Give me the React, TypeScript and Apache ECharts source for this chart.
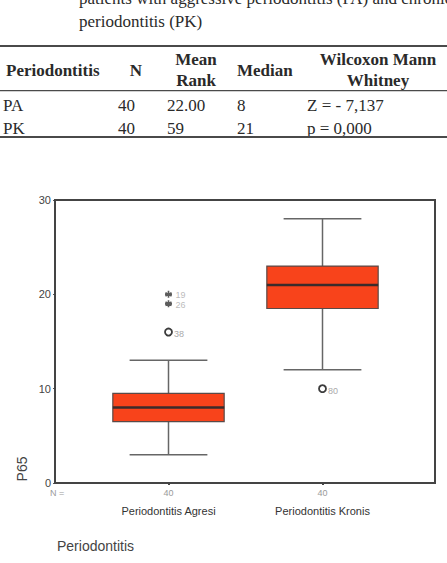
import React, { useEffect, useRef } from "react";
import * as echarts from "echarts";

// Box plot groups
const categories = ["Periodontitis Agresi", "Periodontitis Kronis"];
const counts = [40, 40];
const whiskerLow = [3, 12];
const quartile1 = [6.5, 18.5];
const medians = [8, 21];
const quartile3 = [9.5, 23];
const whiskerHigh = [13, 28];

// Outliers (circle) and extremes (asterisk), with case numbers
const outlierGroup = [0, 1];
const outlierValue = [16, 10];
const outlierCase = ["38", "80"];
const extremeGroup = [0, 0];
const extremeValue = [20, 19];
const extremeCase = ["19", "26"];

const yTicks = [0, 10, 20, 30];

// Summary table
const captionLines = [
  "patients with aggressive periodontitis (PA) and chronic",
  "periodontitis (PK)",
];
const tableGroups = ["PA", "PK"];
const tableN = ["40", "40"];
const tableMeanRank = ["22.00", "59"];
const tableMedian = ["8", "21"];
const tableTest = ["Z = - 7,137", "p = 0,000"];

const SERIF = "'Liberation Serif', 'DejaVu Serif', serif";
const SANS = "'Liberation Sans', Arial, sans-serif";

function serifText(text: string, x: number, y: number, bold = false, align = "left") {
  return {
    type: "text",
    silent: true,
    style: {
      text,
      x,
      y,
      align,
      verticalAlign: "middle",
      font: `${bold ? "bold " : ""}17px ${SERIF}`,
      fill: "#2a2a2a",
    },
  };
}

function rule(y: number, h: number) {
  return {
    type: "rect",
    silent: true,
    shape: { x: 0, y, width: 447, height: h },
    style: { fill: "#4a4a4a" },
  };
}

export default function App() {
  const ref = useRef<HTMLDivElement>(null);

  useEffect(() => {
    if (!ref.current) return;
    const chart = echarts.init(ref.current, null, { renderer: "svg" });

    const boxData = categories.map((_, i) => [
      i,
      whiskerLow[i],
      quartile1[i],
      medians[i],
      quartile3[i],
      whiskerHigh[i],
    ]);

    const outlierData = outlierGroup.map((g, i) => ({
      value: [g, outlierValue[i]],
      name: outlierCase[i],
    }));
    const extremeData = extremeGroup.map((g, i) => ({
      value: [g, extremeValue[i]],
      name: extremeCase[i],
    }));

    const graphic: any[] = [];
    // caption + table
    graphic.push(serifText(captionLines[0], 79, -2));
    graphic.push(serifText(captionLines[1], 79, 21));
    graphic.push(rule(45, 2));
    graphic.push(serifText("Periodontitis", 6, 70, true));
    graphic.push(serifText("N", 136, 70, true, "center"));
    graphic.push(serifText("Mean", 196, 59, true, "center"));
    graphic.push(serifText("Rank", 196, 80, true, "center"));
    graphic.push(serifText("Median", 237, 70, true));
    graphic.push(serifText("Wilcoxon Mann", 378, 59, true, "center"));
    graphic.push(serifText("Whitney", 378, 80, true, "center"));
    graphic.push(rule(90, 1.3));
    tableGroups.forEach((g, i) => {
      const y = 105 + i * 23;
      graphic.push(serifText(g, 3, y));
      graphic.push(serifText(tableN[i], 118, y));
      graphic.push(serifText(tableMeanRank[i], 167, y));
      graphic.push(serifText(tableMedian[i], 237, y));
      graphic.push(serifText(tableTest[i], 307, y));
    });
    graphic.push(rule(136, 2));

    // plot frame
    graphic.push({
      type: "rect",
      silent: true,
      z: 10,
      shape: { x: 55, y: 200, width: 380, height: 283 },
      style: { fill: "none", stroke: "#444", lineWidth: 2 },
    });
    graphic.push({
      type: "text",
      silent: true,
      style: {
        text: "N =",
        x: 50,
        y: 493,
        verticalAlign: "middle",
        font: `9px ${SANS}`,
        fill: "#9a9a9a",
      },
    });
    graphic.push({
      type: "text",
      silent: true,
      x: 22,
      y: 469,
      rotation: Math.PI / 2,
      style: {
        text: "P65",
        x: 0,
        y: 0,
        align: "center",
        verticalAlign: "middle",
        font: `14px ${SANS}`,
        fill: "#444",
      },
    });
    graphic.push({
      type: "text",
      silent: true,
      style: {
        text: "Periodontitis",
        x: 57,
        y: 546,
        verticalAlign: "middle",
        font: `14px ${SANS}`,
        fill: "#444",
      },
    });

    chart.setOption({
      animation: false,
      backgroundColor: "#ffffff",
      grid: { left: 91.5, right: 47.5, top: 200, bottom: 80, containLabel: false },
      xAxis: {
        type: "category",
        data: categories,
        boundaryGap: true,
        axisLine: { show: false },
        axisTick: { show: true, alignWithLabel: true, length: 2, lineStyle: { color: "#444", width: 2 } },
        axisLabel: {
          margin: 1,
          interval: 0,
          formatter: (v: string, idx: number) => `{n|${counts[idx]}}\n{c|${v}}`,
          rich: {
            n: { fontSize: 9, color: "#9a9a9a", lineHeight: 18, fontFamily: SANS },
            c: { fontSize: 11, color: "#333", lineHeight: 18, fontFamily: SANS },
          },
        },
        splitLine: { show: false },
      },
      yAxis: {
        type: "value",
        min: yTicks[0],
        max: yTicks[yTicks.length - 1],
        interval: 10,
        offset: 36.5,
        axisLine: { show: true, lineStyle: { color: "#444", width: 2 } },
        axisTick: { show: true, length: 2, lineStyle: { color: "#555" } },
        axisLabel: { fontSize: 11, color: "#444", margin: 4, fontFamily: SANS },
        splitLine: { show: false },
      },
      series: [
        {
          type: "custom",
          data: boxData,
          encode: { x: 0, y: [1, 2, 3, 4, 5] },
          renderItem: (params: any, api: any) => {
            const x = api.value(0);
            const lo = api.coord([x, api.value(1)]);
            const q1 = api.coord([x, api.value(2)]);
            const md = api.coord([x, api.value(3)]);
            const q3 = api.coord([x, api.value(4)]);
            const hi = api.coord([x, api.value(5)]);
            const band = api.size([1, 0])[0];
            const bw = band * 0.723;
            const cw = band * 0.505;
            const cx = lo[0];
            const whisker = { stroke: "#666", lineWidth: 1.5 };
            return {
              type: "group",
              children: [
                { type: "line", shape: { x1: cx, y1: hi[1], x2: cx, y2: q3[1] }, style: whisker },
                { type: "line", shape: { x1: cx, y1: q1[1], x2: cx, y2: lo[1] }, style: whisker },
                { type: "line", shape: { x1: cx - cw / 2, y1: hi[1], x2: cx + cw / 2, y2: hi[1] }, style: whisker },
                { type: "line", shape: { x1: cx - cw / 2, y1: lo[1], x2: cx + cw / 2, y2: lo[1] }, style: whisker },
                {
                  type: "rect",
                  shape: { x: cx - bw / 2, y: q3[1], width: bw, height: q1[1] - q3[1] },
                  style: { fill: "#f8431b", stroke: "#5a4a48", lineWidth: 1.2 },
                },
                {
                  type: "line",
                  shape: { x1: cx - bw / 2, y1: md[1], x2: cx + bw / 2, y2: md[1] },
                  style: { stroke: "#3b2b2b", lineWidth: 2.5 },
                },
              ],
            };
          },
          z: 2,
        },
        {
          type: "scatter",
          data: outlierData,
          symbol: "circle",
          symbolSize: 7,
          itemStyle: { color: "#ffffff", borderColor: "#3c3c3c", borderWidth: 1.8, opacity: 1 },
          label: {
            show: true,
            position: "right",
            distance: 1,
            offset: [0, 2],
            formatter: (p: any) => p.name,
            fontSize: 9,
            color: "#aaa",
            fontFamily: SANS,
          },
          z: 3,
        },
        {
          type: "scatter",
          data: extremeData,
          symbol: "path://M5 0 L5 10 M0.7 2.5 L9.3 7.5 M0.7 7.5 L9.3 2.5 M0 5 L10 5",
          symbolSize: 7,
          itemStyle: { color: "none", borderColor: "#333", borderWidth: 1.6 },
          label: {
            show: true,
            position: "right",
            distance: 1,
            offset: [0, 1],
            formatter: (p: any) => p.name,
            fontSize: 9,
            color: "#aaa",
            fontFamily: SANS,
          },
          z: 3,
        },
      ],
      graphic,
    });

    return () => chart.dispose();
  }, []);

  return (
    <div
      ref={ref}
      style={{ position: "fixed", left: 0, top: 0, width: 447, height: 563 }}
    />
  );
}
